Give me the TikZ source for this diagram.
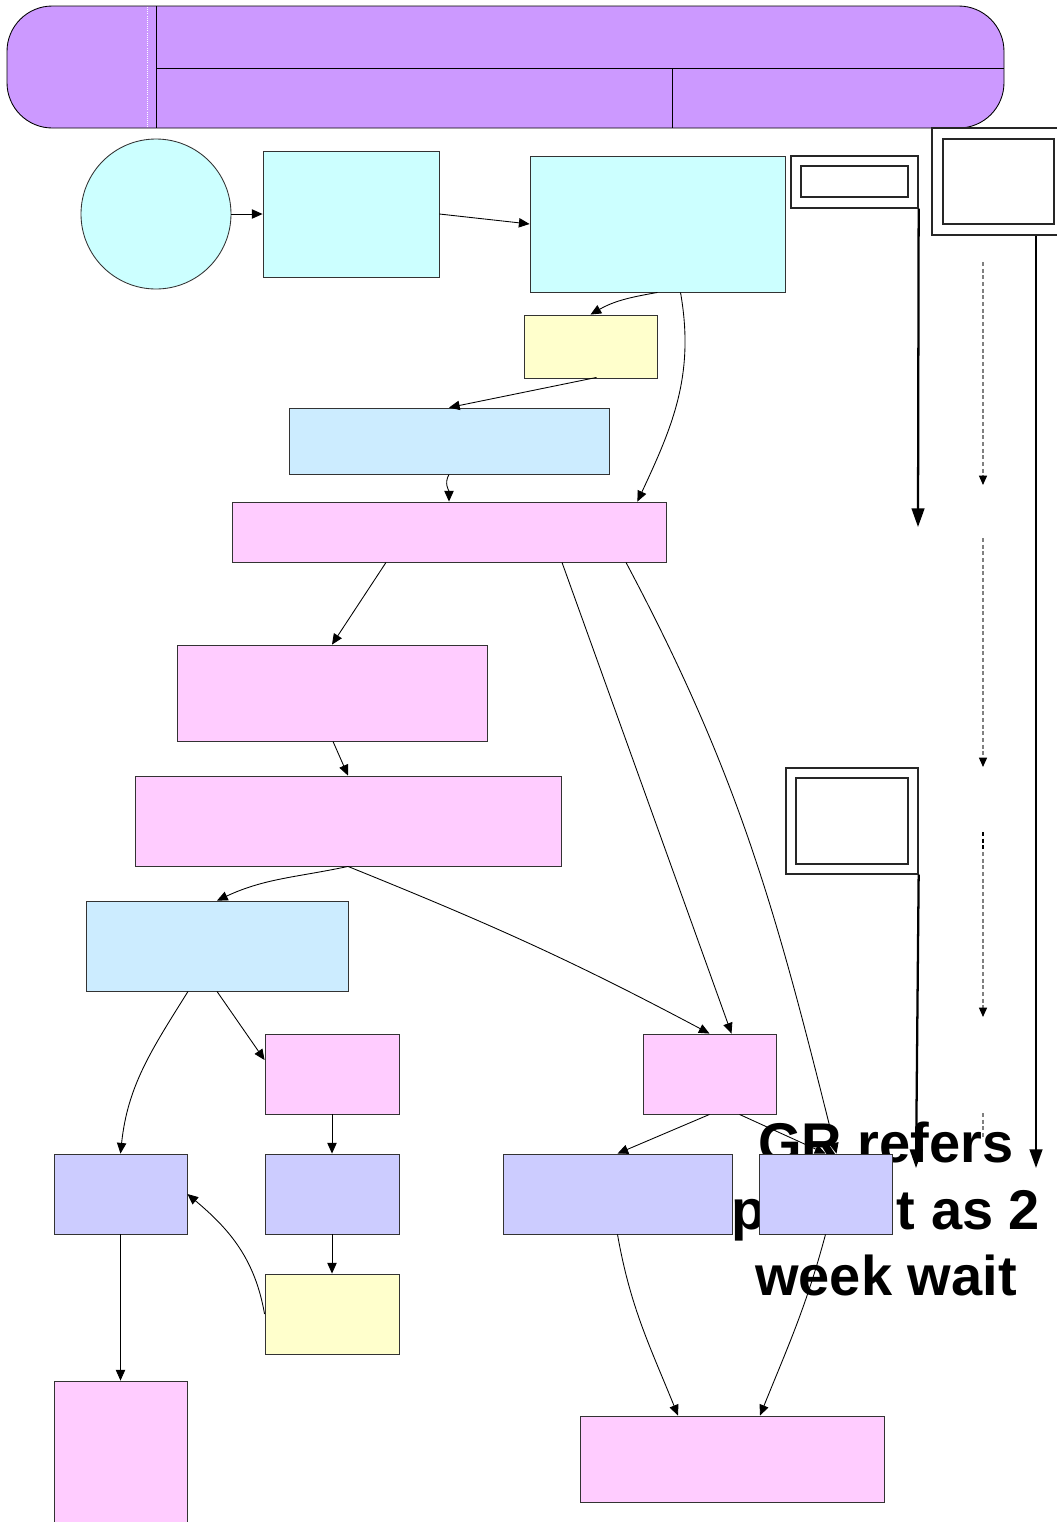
\documentclass[tikz,border=0pt]{standalone}
\usepackage{fontspec}
\usetikzlibrary{arrows.meta,calc}
\newfontfamily\labelfont{Liberation Sans}
\definecolor{hdr}{HTML}{CC99FF}
\definecolor{aqua}{HTML}{CCFFFF}
\definecolor{sky}{HTML}{CCECFF}
\definecolor{rose}{HTML}{FFCCFF}
\definecolor{cream}{HTML}{FFFFCC}
\definecolor{lilac}{HTML}{CCCCFF}

\begin{document}
\begin{tikzpicture}[x=0.75pt, y=0.75pt, line width=0.65pt,
    >={Triangle[length=8pt,width=7pt]},
    box/.style 2 args={rectangle, draw=black!80, inner sep=0pt,
      minimum width=#1*0.75pt, minimum height=#2*0.75pt},
    frame/.style 2 args={rectangle, draw=black!85, fill=white, line width=1pt,
      inner sep=0pt, minimum width=#1*0.75pt, minimum height=#2*0.75pt},
    heavy/.style={line width=1.7pt, -{Triangle[length=14pt,width=9.5pt]}},
    guide/.style={draw=gray, densely dashed, line width=1pt,
      -{Triangle[black,length=7pt,width=6pt]}}]
  \useasboundingbox (0,0) rectangle (1057,-1522);
  % header band
  \path node (H) at (505.5,-67) [rectangle, rounded corners=34pt, draw, fill=hdr,
          minimum width=997*0.75pt, minimum height=122*0.75pt] {};
  \draw (156,-6) -- (156,-128)
        (156,-68) -- (1004,-68)
        (672,-68) -- (672,-128);
  \draw[white, densely dotted, line width=0.6pt] (147,-7) -- (147,-127);
  %
  \path node (W) at (886,-1209) [font=\labelfont\bfseries\fontsize{42}{50}\selectfont,
          align=center] {GR refers\\patient as 2\\week wait};
  %
  \path node (C0) at (156,-214) [circle, draw=black!80, fill=aqua, inner sep=0pt,
          minimum size=150*0.75pt] {}
        node (A1) at (351,-214)    [box={176}{126}, fill=aqua] {}
        node (A2) at (657.5,-224)  [box={255}{136}, fill=aqua] {}
        node (Y1) at (590.5,-346.5)[box={133}{63}, fill=cream] {}
        node (S1) at (449,-441)    [box={320}{66}, fill=sky] {}
        node (P1) at (449,-532)    [box={434}{60}, fill=rose] {}
        node (P2) at (332,-693)    [box={310}{96}, fill=rose] {}
        node (P3) at (348,-821)    [box={426}{90}, fill=rose] {}
        node (S2) at (217,-946)    [box={262}{90}, fill=sky] {}
        node (P4) at (332,-1074)   [box={134}{80}, fill=rose] {}
        node (P5) at (709.5,-1074) [box={133}{80}, fill=rose] {}
        node (V1) at (120.5,-1194) [box={133}{80}, fill=lilac] {}
        node (V2) at (332,-1194)   [box={134}{80}, fill=lilac] {}
        node (V3) at (617.5,-1194) [box={229}{80}, fill=lilac] {}
        node (V4) at (825.5,-1194) [box={133}{80}, fill=lilac] {}
        node (Y2) at (332,-1314)   [box={134}{80}, fill=cream] {}
        node (P6) at (120.5,-1460) [box={133}{158}, fill=rose] {}
        node (P7) at (732,-1459)   [box={304}{86}, fill=rose] {}
        %
        node (F1)  at (854.5,-182)   [frame={127}{52}] {}
        node (F1i) at (854.5,-181.5) [frame={107}{31}] {}
        node (F2)  at (999,-181.5)   [frame={134}{107}] {}
        node (F2i) at (998.5,-181.5) [frame={111}{85}] {}
        node (F3)  at (852,-821)     [frame={132}{106}] {}
        node (F3i) at (852,-821)     [frame={112}{86}] {};
  %
  \draw[->] (C0.east) -- (A1.west);
  \draw[->] (A1.east) -- (A2.west);
  \draw[->] (A2.south) to[out=190,in=30] (Y1.north);
  \draw[->] ($(A2.south)+(23,0)$) to[out=-80,in=65] ($(P1.north east)+(-29,0)$);
  \draw[->] ($(Y1.south)+(6,1)$) -- (S1.north);
  \draw[->] (S1.south) to[out=-120,in=90] (P1.north);
  \draw[->] ($(P1.south)+(-63,0)$) -- (P2.north);
  \draw[->] ($(P1.south)+(113,0)$) -- ($(P5.north)+(22,0)$);
  \draw[->] ($(P1.south)+(177,0)$) to[out=-62,in=104] ($(V4.north)+(11,0)$);
  \draw[->] ($(P2.south)+(1,0)$) -- (P3.north);
  \draw[->] (P3.south) to[out=192,in=25] (S2.north);
  \draw[->] (P3.south) to[out=-22,in=152] (P5.north);
  \draw[->] ($(S2.south)+(-29,0)$) to[out=-122,in=84] (V1.north);
  \draw[->] (S2.south) -- ($(P4.west)+(0,14)$);
  \draw[->] (P4.south) -- (V2.north);
  \draw[->] (V2.south) -- (Y2.north);
  \draw[->] (Y2.west) to[out=100,in=-40] (V1.east);
  \draw[->] (V1.south) -- (P6.north);
  \draw[->] (P5.south) -- (V3.north);
  \draw[->] ($(P5.south)+(30,0)$) -- (V4.north);
  \draw[->] (V3.south) to[out=-80,in=112] ($(P7.north)+(-54,0)$);
  \draw[->] (V4.south) to[out=-105,in=68] ($(P7.north)+(28,0)$);
  % right-hand tracks
  \coordinate (T1) at (918,-527);
  \coordinate (T2) at (1036,-1168);
  \coordinate (T3) at (916,-1168);
  \draw[heavy] (F1.south east) -- (T1);
  \draw[heavy] (F2.south -| T2) -- (T2);
  \draw[heavy] (F3.south east) -- (T3);
  %
  \coordinate (D1a) at (983,-262);  \coordinate (D1b) at (983,-485);
  \coordinate (D2a) at (983,-538);  \coordinate (D2b) at (983,-767);
  \coordinate (D3a) at (983,-832);  \coordinate (D3b) at (983,-1017);
  \coordinate (D4a) at (983,-1113); \coordinate (D4b) at (983,-1138);
  \draw[guide] (D1a) -- (D1b);
  \draw[guide] (D2a) -- (D2b);
  \draw[guide] (D3a) -- (D3b);
  \draw[black, densely dashed, line width=1pt] (D3a) -- ($(D3a)+(0,-18)$);
  \draw[draw=gray, densely dashed, line width=1pt] (D4a) -- (D4b);
\end{tikzpicture}
\end{document}
